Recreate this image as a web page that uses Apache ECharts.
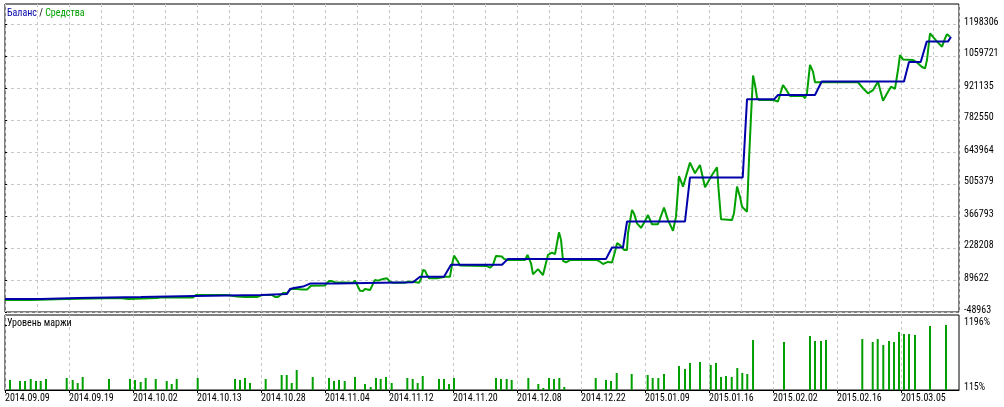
<!DOCTYPE html>
<html>
<head>
<meta charset="utf-8">
<script src="https://cdn.jsdelivr.net/npm/echarts@6/dist/echarts.min.js"></script>
<style>
html,body{margin:0;padding:0;background:#fff;}
#chart{width:1004px;height:407px;}
</style>
</head>
<body>
<div id="chart"></div>
<script>
// x positions are expressed in "date label steps" (0 = 2014.09.09, 1 = 2014.09.19, ...)
const dateLabels = ['2014.09.09','2014.09.19','2014.10.02','2014.10.13','2014.10.28','2014.11.04','2014.11.12','2014.11.20','2014.12.08','2014.12.22','2015.01.09','2015.01.16','2015.02.02','2015.02.16','2015.03.05'];
const balanceTicks = [-48963, 89622, 228208, 366793, 505379, 643964, 782550, 921135, 1059721, 1198306];
const marginTicks = [115, 1196];

const balance = [[0,7000],[0.563,7000],[0.578,12000],[1.141,12000],[1.156,16000],[2.125,16000],[2.141,20000],[2.953,20000],[2.969,25000],[4.0,25000],[4.016,29000],[4.406,29000],[4.453,51000],[4.516,55000],[4.656,61000],[4.766,74000],[5.172,74000],[5.203,80000],[6.375,80000],[6.484,104000],[6.859,104000],[6.969,156000],[7.766,156000],[7.859,181000],[9.391,181000],[9.484,230000],[9.656,230000],[9.719,343000],[10.625,343000],[10.703,534000],[11.527,534000],[11.594,872000],[12.016,872000],[12.078,891000],[12.656,891000],[12.761,949000],[14.047,949000],[14.125,1034000],[14.308,1034000],[14.402,1122000],[14.734,1122000],[14.781,1143000]];

const equity = [[0,3000],[0.406,3000],[0.422,7000],[0.953,7000],[0.969,12000],[1.797,12000],[1.828,7000],[1.922,7000],[1.953,12000],[2.375,12000],[2.422,14000],[2.938,14000],[2.984,25000],[3.469,25000],[3.5,18000],[3.625,18000],[3.75,16000],[3.938,16000],[4.031,25000],[4.172,25000],[4.219,16000],[4.266,16000],[4.344,33000],[4.406,33000],[4.469,51000],[4.563,51000],[4.641,48000],[4.719,48000],[4.781,65000],[4.997,66000],[5.063,85000],[5.109,85000],[5.156,80000],[5.438,78000],[5.469,87000],[5.5,81000],[5.547,43000],[5.594,42000],[5.625,51000],[5.703,46000],[5.734,42000],[5.781,90000],[5.828,87000],[5.906,94000],[5.969,97000],[6.016,82000],[6.063,78000],[6.25,78000],[6.297,82000],[6.375,82000],[6.406,78000],[6.469,78000],[6.5,94000],[6.531,133000],[6.563,130000],[6.594,111000],[6.625,97000],[6.75,97000],[6.781,100000],[6.875,104000],[6.953,104000],[6.984,155000],[7.016,195000],[7.047,191000],[7.078,169000],[7.109,152000],[7.531,150000],[7.578,143000],[7.625,155000],[7.672,194000],[7.766,191000],[7.797,181000],[7.859,176000],[8.125,176000],[8.164,198000],[8.219,162000],[8.25,114000],[8.328,137000],[8.359,135000],[8.406,111000],[8.484,198000],[8.547,208000],[8.594,202000],[8.656,296000],[8.688,263000],[8.719,173000],[8.766,166000],[8.828,176000],[9.25,176000],[9.297,169000],[9.344,159000],[9.422,168000],[9.484,165000],[9.531,212000],[9.563,249000],[9.609,241000],[9.672,220000],[9.719,220000],[9.734,292000],[9.797,393000],[9.828,378000],[9.875,335000],[9.938,315000],[10.0,345000],[10.047,371000],[10.109,331000],[10.203,331000],[10.297,403000],[10.359,349000],[10.438,303000],[10.484,364000],[10.531,540000],[10.594,494000],[10.703,598000],[10.781,552000],[10.859,588000],[10.938,491000],[11.047,544000],[11.125,578000],[11.148,487000],[11.188,353000],[11.359,349000],[11.391,380000],[11.438,494000],[11.484,450000],[11.516,407000],[11.594,385000],[11.625,609000],[11.656,797000],[11.688,975000],[11.719,934000],[11.75,880000],[11.781,869000],[12.0,869000],[12.078,863000],[12.156,934000],[12.219,908000],[12.266,886000],[12.469,886000],[12.5,877000],[12.531,899000],[12.578,1021000],[12.625,992000],[12.656,946000],[13.328,946000],[13.406,920000],[13.484,898000],[13.563,912000],[13.641,948000],[13.719,866000],[13.797,905000],[13.844,927000],[13.906,917000],[13.953,999000],[13.984,1064000],[14.031,1045000],[14.188,1042000],[14.25,1032000],[14.328,1012000],[14.375,1006000],[14.406,1042000],[14.453,1158000],[14.5,1143000],[14.563,1122000],[14.641,1100000],[14.688,1136000],[14.719,1154000],[14.766,1143000]];

const marginLevel = [[0.078,281],[0.234,265],[0.313,265],[0.402,298],[0.484,265],[0.558,265],[0.641,298],[0.964,315],[1.058,281],[1.136,231],[1.214,331],[1.625,298],[1.953,298],[2.031,281],[2.120,248],[2.198,315],[2.355,298],[2.527,265],[2.605,215],[2.683,298],[3.011,315],[3.594,298],[3.672,281],[3.75,315],[3.828,231],[4.073,298],[4.323,364],[4.402,364],[4.480,231],[4.558,448],[4.808,331],[5.063,315],[5.141,265],[5.219,281],[5.308,265],[5.469,331],[5.625,215],[5.714,165],[5.797,315],[5.870,298],[5.953,331],[6.042,231],[6.286,315],[6.370,298],[6.448,231],[6.527,348],[6.781,298],[6.859,298],[6.938,215],[7.016,315],[7.672,315],[7.75,298],[7.839,298],[7.917,281],[8.177,315],[8.333,215],[8.411,148],[8.5,315],[8.578,298],[8.661,315],[8.739,165],[9.230,315],[9.391,281],[9.469,265],[9.558,398],[9.792,381],[10.042,364],[10.120,315],[10.208,315],[10.297,381],[10.531,514],[10.625,464],[10.703,564],[10.859,581],[11.027,531],[11.109,564],[11.188,331],[11.266,348],[11.355,331],[11.442,481],[11.520,398],[11.598,381],[11.688,947],[12.172,913],[12.578,1013],[12.656,930],[12.75,930],[12.828,947],[13.395,963],[13.558,913],[13.636,963],[13.723,863],[13.813,930],[13.891,913],[13.969,1080],[14.047,1046],[14.125,1046],[14.219,1030],[14.453,1179],[14.703,1196]];

const FONT = "'Roboto Condensed', 'DejaVu Sans Condensed', 'Liberation Sans', sans-serif";
const FS = 10;
const BLUE = '#0000aa';
const GREEN = '#00a000';
const GRIDC = '#c8c8c8';

const xMax = 954 / 64;
const yMin = balanceTicks[0];
const yStep = (balanceTicks[balanceTicks.length - 1] - balanceTicks[0]) / (balanceTicks.length - 1);
const yMax = yMin + yStep * 9.625;
const labelIdx = dateLabels.map((d, i) => i);

const chart = echarts.init(document.getElementById('chart'), null, {renderer: 'canvas'});
chart.setOption({
  animation: false,
  backgroundColor: '#fff',
  textStyle: {fontFamily: FONT},
  grid: [
    {left: 5, right: 45, top: 4, height: 308, show: true, borderColor: '#000', borderWidth: 1},
    {left: 5, right: 45, top: 315, height: 75, show: true, borderColor: '#000', borderWidth: 1}
  ],
  xAxis: [
    {type: 'value', gridIndex: 0, min: 0, max: xMax, interval: 0.5,
     axisLine: {show: false}, axisTick: {show: false}, axisLabel: {show: false},
     splitLine: {show: true, lineStyle: {color: GRIDC, type: [3, 3], width: 1}}},
    {type: 'value', gridIndex: 1, min: 0, max: xMax, interval: 0.5,
     axisLine: {show: true, onZero: false, lineStyle: {color: '#000', width: 1}},
     axisTick: {show: true, length: 3, lineStyle: {color: '#000'}, customValues: labelIdx},
     axisLabel: {show: true, customValues: labelIdx, align: 'left', margin: 3,
                 fontSize: FS, fontFamily: FONT, color: '#000',
                 formatter: v => dateLabels[Math.round(v)] || ''},
     splitLine: {show: true, lineStyle: {color: GRIDC, type: [3, 3], width: 1}}}
  ],
  yAxis: [
    {type: 'value', gridIndex: 0, position: 'right', min: yMin, max: yMax, interval: yStep,
     axisLine: {show: false},
     axisTick: {show: true, length: 2, lineStyle: {color: '#000'}, customValues: balanceTicks},
     axisLabel: {show: true, customValues: balanceTicks, margin: 5, fontSize: FS, fontFamily: FONT,
                 color: '#000', verticalAlign: 'bottom', lineHeight: 4,
                 formatter: v => String(Math.round(v))},
     splitLine: {show: true, lineStyle: {color: GRIDC, type: [3, 3], width: 1}}},
    {type: 'value', gridIndex: 1, position: 'right', min: 115, max: 1362, startValue: 115,
     axisLine: {show: false},
     axisTick: {show: true, length: 2, lineStyle: {color: '#000'}, customValues: marginTicks},
     axisLabel: {show: true, customValues: marginTicks, margin: 5, fontSize: FS, fontFamily: FONT,
                 color: '#000', verticalAlign: 'bottom', lineHeight: 5,
                 formatter: v => Math.round(v) + '%'},
     splitLine: {show: false}}
  ],
  series: [
    {name: 'Средства', type: 'line', xAxisIndex: 0, yAxisIndex: 0, data: equity,
     showSymbol: false, symbol: 'none', lineStyle: {color: GREEN, width: 2}, z: 3},
    {name: 'Баланс', type: 'line', xAxisIndex: 0, yAxisIndex: 0, data: balance,
     showSymbol: false, symbol: 'none', lineStyle: {color: BLUE, width: 2}, z: 4},
    {name: 'Уровень маржи', type: 'bar', xAxisIndex: 1, yAxisIndex: 1, data: marginLevel,
     barWidth: 2, clip: true, itemStyle: {color: GREEN}}
  ],
  graphic: [
    {type: 'text', left: 7, top: 8, z: 10, style: {
      text: '{b|Баланс} {k|/} {g|Средства}', font: FS + 'px ' + FONT,
      rich: {b: {fill: BLUE, fontSize: FS, fontFamily: FONT},
             k: {fill: '#000', fontSize: FS, fontFamily: FONT},
             g: {fill: GREEN, fontSize: FS, fontFamily: FONT}}}},
    {type: 'text', left: 7, top: 318, z: 10, style: {
      text: 'Уровень маржи', fill: '#000', font: FS + 'px ' + FONT}}
  ]
});
</script>
</body>
</html>
